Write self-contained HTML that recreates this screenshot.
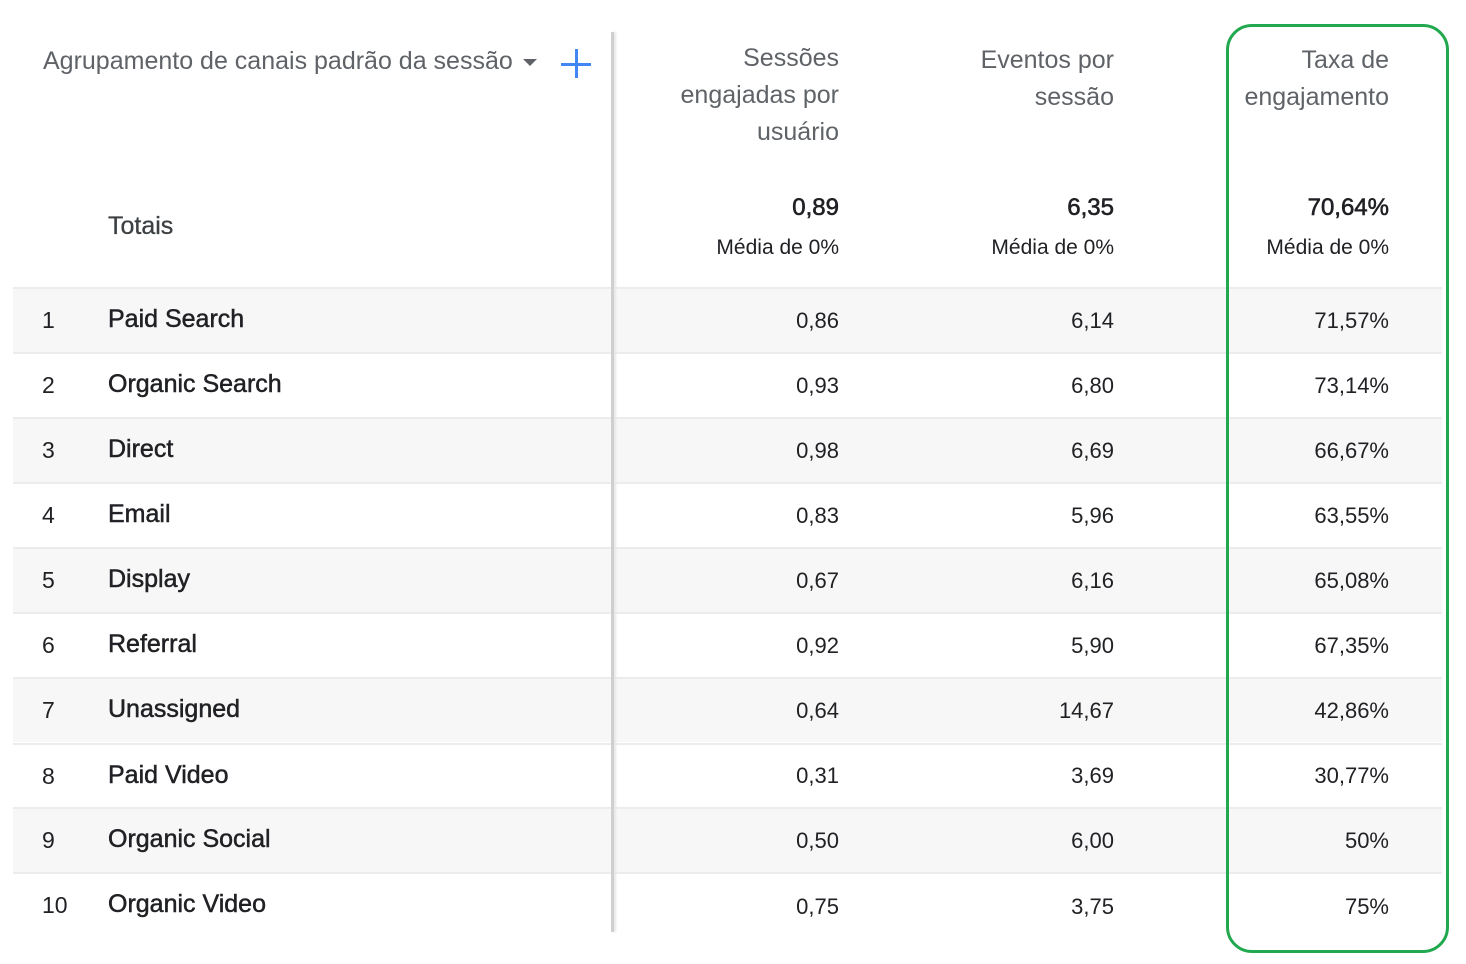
<!DOCTYPE html>
<html><head><meta charset="utf-8"><style>
body{margin:0;width:1466px;height:964px;background:#fff;position:relative;overflow:hidden;font-family:"Liberation Sans",sans-serif;}
.a{position:absolute;white-space:nowrap;}
.row{position:absolute;left:13px;width:1429px;height:65px;border-top:2px solid #ececec;box-sizing:border-box;}
.g{background:#f7f7f7;}
.num{position:absolute;left:42px;font-size:23px;color:#202124;}
.nm{position:absolute;left:108px;font-size:25px;color:#202124;-webkit-text-stroke:0.5px #202124;}
.v{position:absolute;font-size:22px;color:#202124;text-align:right;width:200px;}
.h{position:absolute;font-size:25px;color:#5f6368;text-align:right;line-height:37px;width:300px;}
</style></head><body>
<div class="row g" style="top:287px"></div>
<div class="row" style="top:352px"></div>
<div class="row g" style="top:417px"></div>
<div class="row" style="top:482px"></div>
<div class="row g" style="top:547px"></div>
<div class="row" style="top:612px"></div>
<div class="row g" style="top:677px"></div>
<div class="row" style="top:743px"></div>
<div class="row g" style="top:807px"></div>
<div class="row" style="top:872px;border-bottom:none"></div>
<div class="a" style="left:611px;top:32px;width:3px;height:900px;background:#cfcfcf;box-shadow:2px 0 2px #e6e6e6"></div>
<div class="a" style="left:1226px;top:24px;width:217px;height:923px;border:3px solid #22a94f;border-radius:26px"></div>

<div class="a" style="left:43px;top:47px;font-size:25px;color:#5f6368">Agrupamento de canais padrão da sessão</div>
<div class="a" style="left:523px;top:59px;width:0;height:0;border-left:7px solid transparent;border-right:7px solid transparent;border-top:7px solid #5f6368"></div>
<div class="a" style="left:561px;top:63px;width:30px;height:3px;background:#4285f4"></div>
<div class="a" style="left:575px;top:49px;width:3px;height:29px;background:#4285f4"></div>
<div class="a" style="left:108px;top:212px;font-size:25px;color:#3c4043;-webkit-text-stroke:0.3px #3c4043">Totais</div>

<div class="h" style="left:539px;top:40px">Sessões<br>engajadas por<br>usuário</div>
<div class="h" style="left:814px;top:42px">Eventos por<br>sessão</div>
<div class="h" style="left:1089px;top:42px">Taxa de<br>engajamento</div>

<div class="v" style="left:639px;top:194px;font-size:24px;-webkit-text-stroke:0.6px #202124">0,89</div>
<div class="v" style="left:914px;top:194px;font-size:24px;-webkit-text-stroke:0.6px #202124">6,35</div>
<div class="v" style="left:1189px;top:194px;font-size:24px;-webkit-text-stroke:0.6px #202124">70,64%</div>
<div class="v" style="left:639px;top:236px;font-size:21px">Média de 0%</div>
<div class="v" style="left:914px;top:236px;font-size:21px">Média de 0%</div>
<div class="v" style="left:1189px;top:236px;font-size:21px">Média de 0%</div>

<div class="num" style="top:307px">1</div><div class="nm" style="top:305px">Paid Search</div>
<div class="v" style="left:639px;top:308px">0,86</div><div class="v" style="left:914px;top:308px">6,14</div><div class="v" style="left:1189px;top:308px">71,57%</div>
<div class="num" style="top:372px">2</div><div class="nm" style="top:370px">Organic Search</div>
<div class="v" style="left:639px;top:373px">0,93</div><div class="v" style="left:914px;top:373px">6,80</div><div class="v" style="left:1189px;top:373px">73,14%</div>
<div class="num" style="top:437px">3</div><div class="nm" style="top:435px">Direct</div>
<div class="v" style="left:639px;top:438px">0,98</div><div class="v" style="left:914px;top:438px">6,69</div><div class="v" style="left:1189px;top:438px">66,67%</div>
<div class="num" style="top:502px">4</div><div class="nm" style="top:500px">Email</div>
<div class="v" style="left:639px;top:503px">0,83</div><div class="v" style="left:914px;top:503px">5,96</div><div class="v" style="left:1189px;top:503px">63,55%</div>
<div class="num" style="top:567px">5</div><div class="nm" style="top:565px">Display</div>
<div class="v" style="left:639px;top:568px">0,67</div><div class="v" style="left:914px;top:568px">6,16</div><div class="v" style="left:1189px;top:568px">65,08%</div>
<div class="num" style="top:632px">6</div><div class="nm" style="top:630px">Referral</div>
<div class="v" style="left:639px;top:633px">0,92</div><div class="v" style="left:914px;top:633px">5,90</div><div class="v" style="left:1189px;top:633px">67,35%</div>
<div class="num" style="top:697px">7</div><div class="nm" style="top:695px">Unassigned</div>
<div class="v" style="left:639px;top:698px">0,64</div><div class="v" style="left:914px;top:698px">14,67</div><div class="v" style="left:1189px;top:698px">42,86%</div>
<div class="num" style="top:763px">8</div><div class="nm" style="top:761px">Paid Video</div>
<div class="v" style="left:639px;top:763px">0,31</div><div class="v" style="left:914px;top:763px">3,69</div><div class="v" style="left:1189px;top:763px">30,77%</div>
<div class="num" style="top:827px">9</div><div class="nm" style="top:825px">Organic Social</div>
<div class="v" style="left:639px;top:828px">0,50</div><div class="v" style="left:914px;top:828px">6,00</div><div class="v" style="left:1189px;top:828px">50%</div>
<div class="num" style="top:892px">10</div><div class="nm" style="top:890px">Organic Video</div>
<div class="v" style="left:639px;top:894px">0,75</div><div class="v" style="left:914px;top:894px">3,75</div><div class="v" style="left:1189px;top:894px">75%</div>
</body></html>
